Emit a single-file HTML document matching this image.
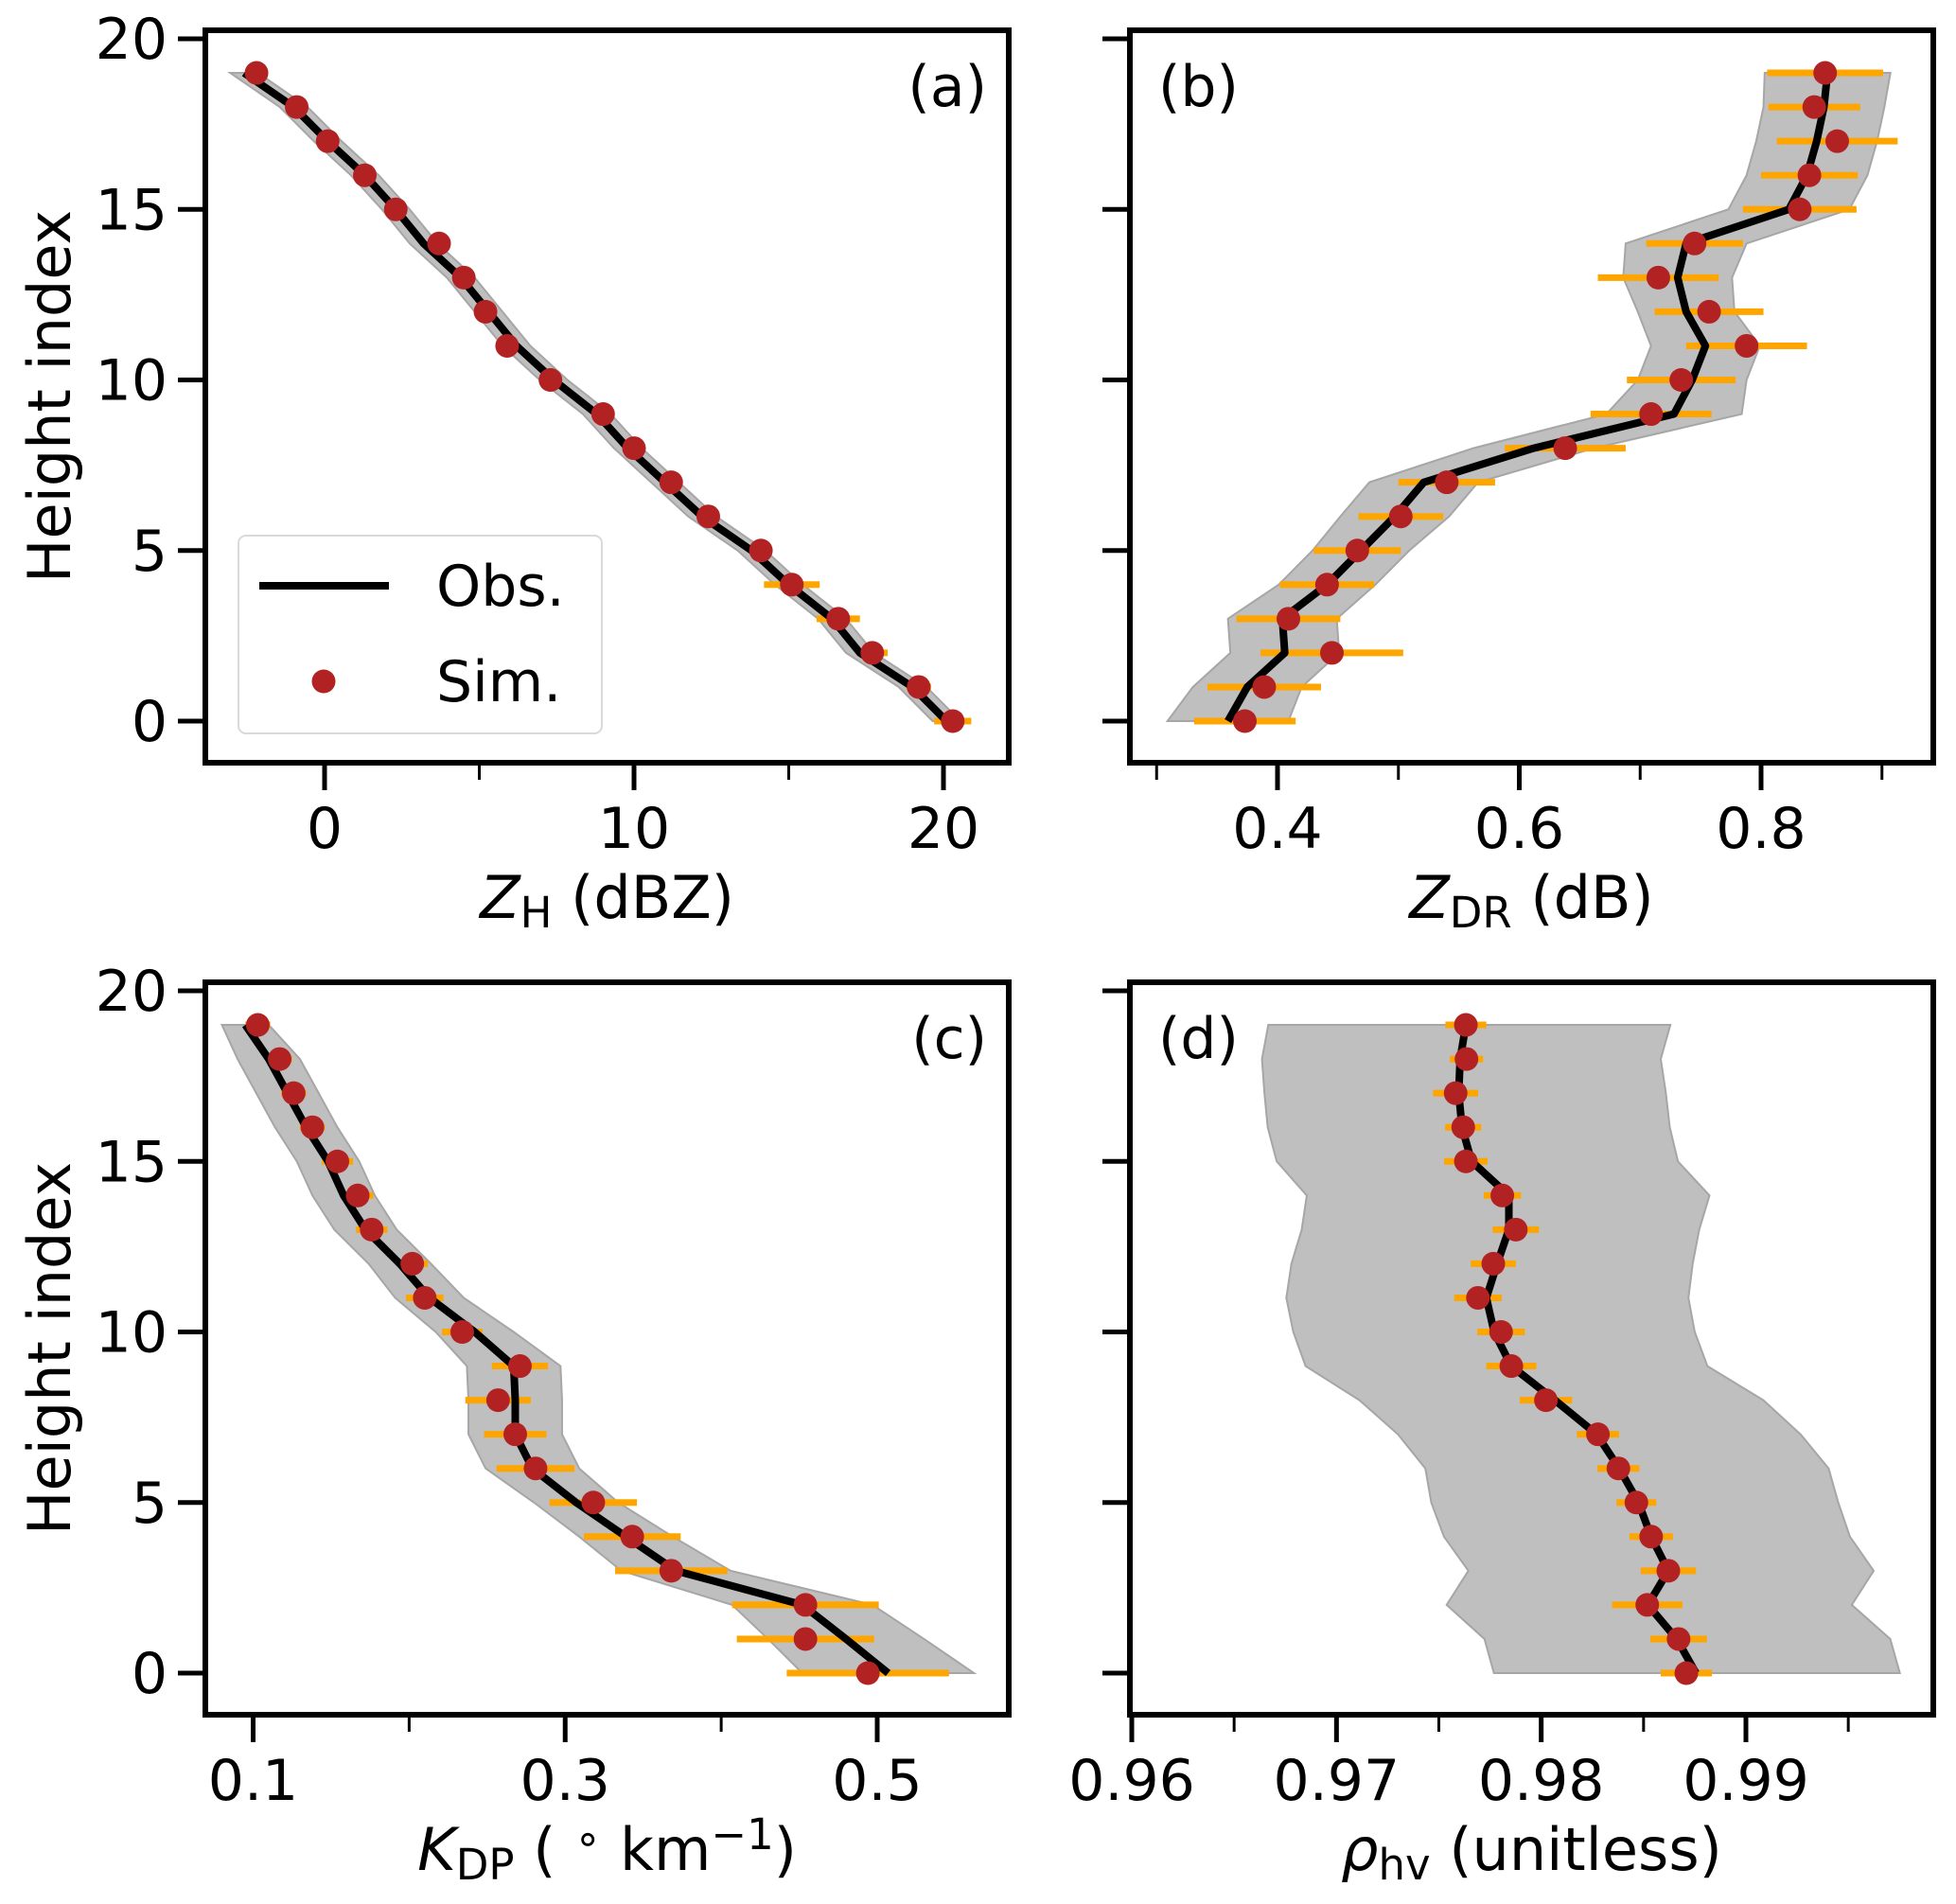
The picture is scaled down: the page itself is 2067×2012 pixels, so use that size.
<!DOCTYPE html>
<html><head><meta charset="utf-8"><style>
html,body{margin:0;padding:0;background:#fff}
svg{display:block;font-family:"DejaVu Sans","Liberation Sans",sans-serif}
</style></head><body>
<svg id="fig" width="2067" height="2012" viewBox="0 0 2067 2012" xmlns="http://www.w3.org/2000/svg"></svg>
<script>
// Height indices 0..19
const heights = [0,1,2,3,4,5,6,7,8,9,10,11,12,13,14,15,16,17,18,19];
// Panel a: ZH
const zhObs = [20.1,19.0,17.3,16.4,15.0,13.8,12.2,11.0,9.8,8.8,7.4,6.2,5.3,4.4,3.2,2.3,1.3,0.1,-1.0,-2.6];
const zhSim = [20.3,19.2,17.7,16.6,15.1,14.1,12.4,11.2,10.0,9.0,7.3,5.9,5.2,4.5,3.7,2.3,1.3,0.1,-0.9,-2.2];
const zhBand = [0.45,0.45,0.45,0.45,0.45,0.45,0.45,0.45,0.45,0.45,0.45,0.45,0.45,0.45,0.45,0.45,0.45,0.45,0.45,0.45];
const zhErr = [0.6,0.4,0.5,0.7,0.9,0.3,0.3,0.3,0.2,0.2,0.1,0.1,0.1,0.2,0.2,0.1,0.1,0.1,0.1,0.3];
const zhTicks = [0,10,20];
// Panel b: ZDR
const zdrObs = [0.359,0.375,0.406,0.404,0.441,0.469,0.497,0.521,0.612,0.728,0.743,0.754,0.738,0.731,0.738,0.823,0.838,0.846,0.852,0.855];
const zdrSim = [0.373,0.389,0.445,0.409,0.441,0.466,0.502,0.540,0.638,0.709,0.734,0.788,0.757,0.715,0.745,0.832,0.840,0.863,0.844,0.853];
const zdrBand = [0.05,0.045,0.045,0.045,0.04,0.04,0.045,0.045,0.05,0.056,0.045,0.045,0.04,0.045,0.05,0.05,0.05,0.05,0.05,0.052];
const zdrErr = [0.042,0.047,0.059,0.043,0.039,0.036,0.035,0.04,0.05,0.05,0.045,0.05,0.045,0.05,0.04,0.047,0.04,0.05,0.038,0.048];
const zdrTicks = [0.4,0.6,0.8];
// Panel c: KDP
const kdpObs = [0.507,0.480,0.452,0.371,0.339,0.307,0.279,0.268,0.268,0.267,0.242,0.213,0.194,0.172,0.158,0.148,0.134,0.122,0.110,0.095];
const kdpSim = [0.494,0.454,0.454,0.368,0.343,0.318,0.281,0.268,0.257,0.271,0.234,0.210,0.202,0.176,0.167,0.154,0.138,0.126,0.117,0.103];
const kdpBand = [0.055,0.05,0.045,0.035,0.03,0.027,0.03,0.03,0.03,0.03,0.025,0.022,0.02,0.02,0.02,0.02,0.02,0.02,0.02,0.015];
const kdpErr = [0.052,0.044,0.047,0.036,0.031,0.028,0.025,0.02,0.021,0.018,0.013,0.012,0.01,0.01,0.01,0.01,0.008,0.008,0.008,0.008];
const kdpTicks = [0.1,0.3,0.5];
// Panel d: rhohv
const rhoObs = [0.98756,0.98662,0.98521,0.98621,0.98537,0.98475,0.98381,0.98271,0.98067,0.97854,0.97770,0.97732,0.97785,0.97842,0.97842,0.97660,0.97613,0.97597,0.97604,0.97632];
const rhoSim = [0.98709,0.98671,0.98518,0.98621,0.98537,0.98465,0.98377,0.98277,0.98023,0.97854,0.97804,0.97691,0.97766,0.97876,0.97810,0.97632,0.97619,0.97582,0.97635,0.97632];
const rhoLow = [0.97769,0.97723,0.97538,0.97644,0.97525,0.97463,0.97434,0.97300,0.97112,0.96849,0.96789,0.96755,0.96780,0.96830,0.96855,0.96708,0.96664,0.96648,0.96636,0.96667];
const rhoHigh = [0.99752,0.99705,0.99517,0.99624,0.99508,0.99451,0.99404,0.99267,0.99085,0.98812,0.98750,0.98719,0.98740,0.98772,0.98822,0.98668,0.98628,0.98609,0.98584,0.98631];
const rhoErr = [0.00125,0.00138,0.00172,0.00135,0.00106,0.00097,0.00103,0.00103,0.00128,0.00122,0.00116,0.00116,0.0011,0.00113,0.00091,0.00106,0.00088,0.0011,0.00081,0.001];
const rhoTicks = [0.96,0.97,0.98,0.99];
const yTicks = [0,5,10,15,20];

const NS='http://www.w3.org/2000/svg';
const svg=document.getElementById('fig');
function mk(tag,attrs,parent){const e=document.createElementNS(NS,tag);for(const k in attrs)e.setAttribute(k,attrs[k]);(parent||svg).appendChild(e);return e;}
function lin(d0,d1,p0,p1){return v=>p0+(v-d0)*(p1-p0)/(d1-d0);}

function panel(cfg){
  const g=mk('g',{});
  
  
  const {L,R,T,B,x,y}=cfg;
  let pts=[];
  heights.forEach((h,i)=>pts.push(x(cfg.low[i])+','+y(h)));
  for(let i=heights.length-1;i>=0;i--)pts.push(x(cfg.high[i])+','+y(heights[i]));
  const band=mk('polygon',{points:pts.join(' '),fill:'#bfbfbf',stroke:'#a6a6a6','stroke-width':2},g);
  
  
  heights.forEach((h,i)=>{
    const eb=mk('line',{x1:x(cfg.sim[i]-cfg.err[i]),x2:x(cfg.sim[i]+cfg.err[i]),y1:y(h),y2:y(h),stroke:'#ffa500','stroke-width':7},g);
    
    
  });
  const ln=mk('polyline',{points:heights.map((h,i)=>x(cfg.obs[i])+','+y(h)).join(' '),fill:'none',stroke:'#000','stroke-width':8,'stroke-linejoin':'round'},g);
  
  
  heights.forEach((h,i)=>{
    const c=mk('circle',{cx:x(cfg.sim[i]),cy:y(h),r:12.5,fill:'#b22222'},g);
    
    
  });
  const fr=mk('rect',{x:L,y:T,width:R-L,height:B-T,fill:'none',stroke:'#000','stroke-width':6},g);
  
  
  yTicks.forEach(t=>{
    mk('line',{x1:L-29,x2:L,y1:y(t),y2:y(t),stroke:'#000','stroke-width':5},g);
    if(cfg.ylabels){
      const tx=mk('text',{x:L-40,y:y(t)+21,'font-size':60,'text-anchor':'end'},g);
      tx.textContent=t;
      
      
    }
  });
  cfg.xticks.forEach((t,i)=>{
    mk('line',{x1:x(t),x2:x(t),y1:B,y2:B+29,stroke:'#000','stroke-width':5},g);
    const tx=mk('text',{x:x(t),y:B+90,'font-size':60,'text-anchor':'middle'},g);
    tx.textContent=cfg.xtickText[i];
    
    
  });
  cfg.minor.forEach(t=>{mk('line',{x1:x(t),x2:x(t),y1:B,y2:B+18,stroke:'#000','stroke-width':3},g);});
  const pl=mk('text',{x:cfg.letterX,y:T+80,'font-size':60,'text-anchor':cfg.letterAnchor},g);
  pl.textContent=cfg.letter;
  
  
  const xt=mk('text',{x:(L+R)/2,y:B+164,'font-size':62,'text-anchor':'middle'},g);
  xt.innerHTML=cfg.xtitle;
  
  
  if(cfg.ylabels){
    const yt=mk('text',{x:0,y:0,'font-size':62,'text-anchor':'middle',transform:`translate(74,${(T+B)/2}) rotate(-90)`},g);
    yt.textContent='Height index';
    
    
  }
  return g;
}

const yTop=v=>762-v*36.05, yBot=v=>1768-v*36.05;
const xa=lin(0,20,343,997), xb=lin(0.4,0.8,1350,1861), xc=lin(0.1,0.5,267.5,927), xd=lin(0.96,0.99,1196,1845);

panel({name:'panel-a-zh',L:217,R:1066,T:32,B:806,x:xa,y:yTop,obs:zhObs,sim:zhSim,err:zhErr,
  low:zhObs.map((v,i)=>v-zhBand[i]),high:zhObs.map((v,i)=>v+zhBand[i]),
  xticks:zhTicks,xtickText:['0','10','20'],minor:[5,15],ylabels:true,letter:'(a)',letterX:1043,letterAnchor:'end',
  xtitle:'<tspan font-style="italic">Z</tspan><tspan font-size="45" dy="10">H</tspan><tspan dy="-10"> (dBZ)</tspan>'});
panel({name:'panel-b-zdr',L:1194,R:2043,T:32,B:806,x:xb,y:yTop,obs:zdrObs,sim:zdrSim,err:zdrErr,
  low:zdrObs.map((v,i)=>v-zdrBand[i]),high:zdrObs.map((v,i)=>v+zdrBand[i]),
  xticks:zdrTicks,xtickText:['0.4','0.6','0.8'],minor:[0.3,0.5,0.7,0.9],ylabels:false,letter:'(b)',letterX:1224,letterAnchor:'start',
  xtitle:'<tspan font-style="italic">Z</tspan><tspan font-size="45" dy="10">DR</tspan><tspan dy="-10"> (dB)</tspan>'});
panel({name:'panel-c-kdp',L:217,R:1066,T:1038,B:1812,x:xc,y:yBot,obs:kdpObs,sim:kdpSim,err:kdpErr,
  low:kdpObs.map((v,i)=>v-kdpBand[i]),high:kdpObs.map((v,i)=>v+kdpBand[i]),
  xticks:kdpTicks,xtickText:['0.1','0.3','0.5'],minor:[0.2,0.4],ylabels:true,letter:'(c)',letterX:1043,letterAnchor:'end',
  xtitle:'<tspan font-style="italic">K</tspan><tspan font-size="45" dy="10">DP</tspan><tspan dy="-10"> ( </tspan><tspan font-size="45" dy="-18">∘</tspan><tspan dy="18">  km</tspan><tspan font-size="45" dy="-22">−1</tspan><tspan dy="22">)</tspan>'});
panel({name:'panel-d-rhohv',L:1194,R:2043,T:1038,B:1812,x:xd,y:yBot,obs:rhoObs,sim:rhoSim,err:rhoErr,
  low:rhoLow,high:rhoHigh,
  xticks:rhoTicks,xtickText:['0.96','0.97','0.98','0.99'],minor:[0.965,0.975,0.985,0.995],ylabels:false,letter:'(d)',letterX:1224,letterAnchor:'start',
  xtitle:'<tspan font-style="italic">ρ</tspan><tspan font-size="45" dy="10">hv</tspan><tspan dy="-10"> (unitless)</tspan>'});

const lg=mk('g',{});


mk('rect',{x:252,y:566,width:384,height:209,rx:8,fill:'#fff','fill-opacity':0.8,stroke:'#d9d9d9','stroke-width':2},lg);
const l1=mk('line',{x1:274,x2:411,y1:619,y2:619,stroke:'#000','stroke-width':8},lg);


const t1=mk('text',{x:461,y:640,'font-size':60},lg);t1.textContent='Obs.';
const c1=mk('circle',{cx:342,cy:720,r:12.5,fill:'#b22222'},lg);


const t2=mk('text',{x:461,y:741,'font-size':60},lg);t2.textContent='Sim.';
</script>
</body></html>
